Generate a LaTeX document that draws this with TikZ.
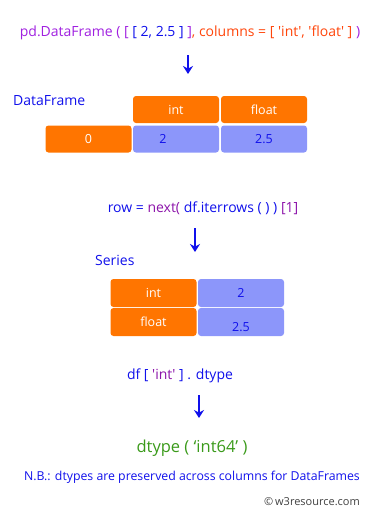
\documentclass[tikz,border=0pt]{standalone}
\usepackage{fontspec}
\setmainfont{Open Sans}
\usepackage{tikz}
\usetikzlibrary{arrows.meta, positioning}
\definecolor{codeblue}{RGB}{16,16,235}
\definecolor{codeviolet}{RGB}{160,32,224}
\definecolor{codeplum}{RGB}{140,20,170}
\definecolor{codeorange}{RGB}{255,69,10}
\definecolor{cellorange}{RGB}{255,117,0}
\definecolor{cellblue}{RGB}{140,150,250}
\definecolor{resgreen}{RGB}{58,154,26}

\begin{document}
\begin{tikzpicture}[x=1pt, y=-1pt,
  codetxt/.style={font=\fontsize{14}{16}\selectfont, inner sep=0pt},
  tabcap/.style={font=\fontsize{14}{16}\selectfont, text=codeblue, inner sep=0pt, anchor=west},
  cellbase/.style={rounded corners=3pt, minimum width=86pt, minimum height=27pt,
    inner sep=0pt, font=\fontsize{12.5}{14}\selectfont},
  obox/.style={cellbase, fill=cellorange, text=white},
  bbox/.style={cellbase, fill=cellblue, text=codeblue},
  downarr/.style={codeblue, line width=1.7pt, -{Stealth[length=8pt, width=10pt]}}]
  \useasboundingbox (0,0) rectangle (375,517);
  % first call: building the frame
  \node[codetxt] (mkframe) at (190,33) {\textcolor{codeviolet}{pd.DataFrame ( [}
    \textcolor{codeblue}{[ 2, 2.5 ]} \textcolor{codeviolet}{]}\textcolor{codeorange}{, columns = [ \textquotesingle int\textquotesingle, \textquotesingle float\textquotesingle\ ]}
    \textcolor{codeviolet}{)}};
  \coordinate (a1top) at (188,55);
  \coordinate (a1end) at (188,74);
  \draw[downarr] (a1top) -- (a1end);
  \node[tabcap] (dfcap) at (13,101) {DataFrame};
  \node[obox] (hint) at (176,109.5) {int};
  \node[obox] (hfloat) at (264,109.5) {float};
  \node[obox] (rzero) at (88.5,139) {0};
  \node[bbox] (vtwo) at (176,139) {\hspace*{-26pt}2};
  \node[bbox] (vtwofive) at (264,139) {2.5};
  % second call: one row as a series
  \node[codetxt] (getrow) at (203,208) {\textcolor{codeblue}{row =}
    \textcolor{codeplum}{next(} \textcolor{codeblue}{df.iterrows ( ) )} \textcolor{codeplum}{[1]}};
  \coordinate (a2top) at (195,228);
  \coordinate (a2end) at (195,252);
  \draw[downarr] (a2top) -- (a2end);
  \node[tabcap] (sercap) at (95,260) {Series};
  \node[obox, minimum height=28pt] (sint) at (153.5,293) {int};
  \node[bbox, minimum height=28pt] (stwo) at (241,293) {2};
  \node[obox, minimum height=28pt] (sfloat) at (153.5,322) {float};
  \node[bbox, minimum height=28pt] (stwofive) at (241,322) {\raisebox{-5pt}[\height][0pt]{2.5}};
  % third call: dtype of a column
  \node[codetxt] (coltype) at (180,376) {\textcolor{codeblue}{df [}
    \textcolor{codeplum}{\textquotesingle int\textquotesingle} \textcolor{codeblue}{] . dtype}};
  \coordinate (a3top) at (199,395);
  \coordinate (a3end) at (199,418);
  \draw[downarr] (a3top) -- (a3end);
  \node[inner sep=0pt, text=resgreen, font=\fontsize{16.5}{19}\selectfont] (restype) at (192,448) {dtype ( `int64' )};
  \node[inner sep=0pt, text=codeblue, font=\fontsize{12.3}{14}\selectfont] (nbnote) at (192,477) {N.B.: dtypes are preserved across columns for DataFrames};
  \node[inner sep=0pt, text=black!75, font=\fontsize{11}{13}\selectfont] (credit) at (312,502) {\textcopyright\,w3resource.com};
\end{tikzpicture}
\end{document}
